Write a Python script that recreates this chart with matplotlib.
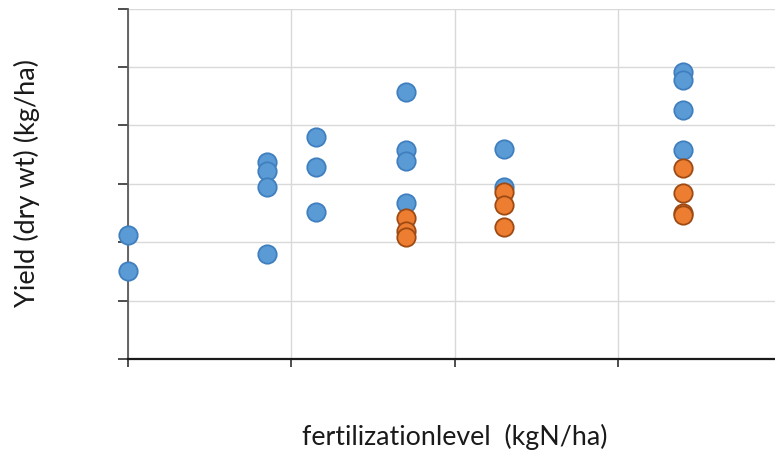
import matplotlib
matplotlib.use("Agg")
import matplotlib.pyplot as plt

# fertilization level (kgN/ha) and yield (kg/ha)
blue_x = [0, 0, 42.5, 42.5, 42.5, 42.5, 57.5, 57.5, 57.5,
          85, 85, 85, 85, 115, 115, 170, 170, 170, 170]
blue_y = [2123, 1506, 3372, 3218, 2944, 1797, 3792, 3287, 2516,
          4570, 3578, 3389, 2670, 3595, 2944, 4921, 4784, 4271, 3578]

orange_x = [85, 85, 85, 115, 115, 115, 170, 170, 170, 170]
orange_y = [2414, 2191, 2088, 2859, 2636, 2260, 3278, 2841, 2499, 2465]

x_ticks = [0, 50, 100, 150]
y_ticks = [0, 1000, 2000, 3000, 4000, 5000, 6000]

plt.rcParams['font.family'] = ['Lato', 'DejaVu Sans']

fig = plt.figure(figsize=(7.75, 4.52), dpi=100)
ax = fig.add_axes([128/775, 1 - 360/452, 1 - 128/775, (360 - 9.5)/452])

ax.scatter(blue_x, blue_y, s=175, facecolor='#5B9BD5', edgecolor='#3F7FC0',
           linewidths=1.3, zorder=3, clip_on=False)
ax.scatter(orange_x, orange_y, s=175, facecolor='#ED7D31', edgecolor='#9E4A12',
           linewidths=1.3, zorder=4, clip_on=False)

ax.set_xlim(0, (775 - 128) / 163.3 * 50)
ax.set_ylim(0, 6000)
ax.set_xticks(x_ticks)
ax.set_yticks(y_ticks)
ax.set_xticklabels([])
ax.set_yticklabels([])
ax.grid(True, color='#D9D9D9', linewidth=1.0, zorder=0)
ax.set_axisbelow(True)
for s in ['top', 'right']:
    ax.spines[s].set_visible(False)
ax.spines['left'].set_color('#595959')
ax.spines['left'].set_linewidth(1.3)
ax.spines['bottom'].set_color('#1a1a1a')
ax.spines['bottom'].set_linewidth(1.6)
ax.tick_params(axis='y', length=7, width=1.3, color='#404040', direction='out')
ax.tick_params(axis='x', length=6, width=1.3, color='#404040', direction='out')

fig.text(455/775, 1 - 437/452, 'fertilizationlevel  (kgN/ha)', ha='center', va='center',
         fontsize=19.3, color='#1a1a1a')
fig.text(27/775, 1 - 183/452, 'Yield (dry wt) (kg/ha)', ha='center', va='center',
         rotation=90, fontsize=19.5, color='#1a1a1a')

fig.savefig('out.png', dpi=100)
